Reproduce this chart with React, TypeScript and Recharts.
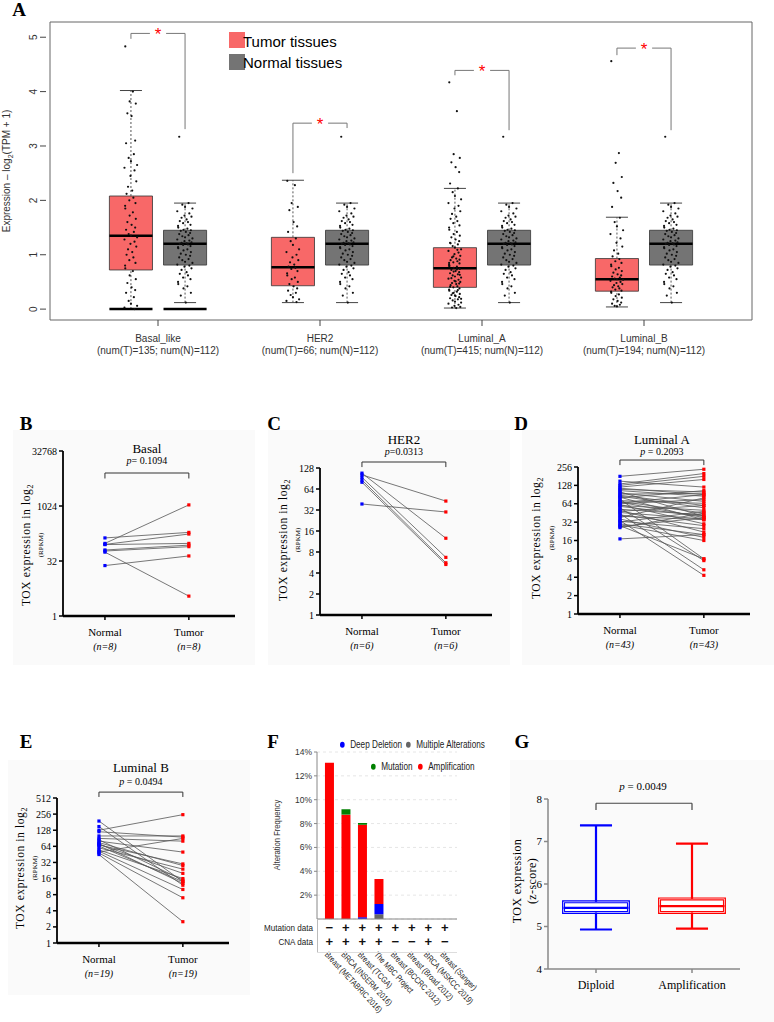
import React from 'react';
import {
  ComposedChart, LineChart, BarChart, Line, Bar, Scatter, XAxis, YAxis,
  CartesianGrid, ReferenceArea, ReferenceLine,
} from 'recharts';

const SERIF = "'Liberation Serif', 'DejaVu Serif', serif";
const SANS = "'Liberation Sans', Arial, sans-serif";
const NARROW = "'Liberation Sans Narrow', 'Liberation Sans', Arial, sans-serif";

// ---------- Panel A: GEPIA box plots ----------
const SUBTYPES = ['Basal_like', 'HER2', 'Luminal_A', 'Luminal_B'];
const SUBTYPE_X = [1, 2, 3, 4];
const NUM_T = [135, 66, 415, 194];
const NUM_N = [112, 112, 112, 112];
const A_TICKS = [0, 1, 2, 3, 4, 5];

// [lower whisker, q1, median, q3, upper whisker]
const TUMOR_BOX = [
  [0, 0.72, 1.35, 2.08, 4.02],
  [0.12, 0.43, 0.77, 1.32, 2.37],
  [0.02, 0.4, 0.75, 1.13, 2.22],
  [0.04, 0.33, 0.55, 0.93, 1.69],
];
const NORMAL_BOX = [0.12, 0.81, 1.2, 1.45, 1.95];
// [bracket top, tumor leg end, normal leg end]
const SIG = [
  [5.07, 4.97, 3.31],
  [3.42, 2.5, 3.33],
  [4.39, 4.3, 3.29],
  [4.8, 4.67, 3.29],
];

const BASAL_T = [4.83, 4.0, 3.82, 3.78, 3.6, 3.55, 3.1, 3.05, 2.85, 2.78, 2.72, 2.65, 2.6, 2.55, 2.45, 2.35,
  2.25, 2.18, 2.12, 2.05, 2.0, 1.95, 1.9, 1.85, 1.78, 1.72, 1.66, 1.6, 1.55, 1.5, 1.46, 1.42, 1.38, 1.35,
  1.32, 1.28, 1.24, 1.2, 1.15, 1.1, 1.05, 1.0, 0.95, 0.9, 0.85, 0.8, 0.75, 0.7, 0.62, 0.55, 0.48, 0.4,
  0.35, 0.3, 0.22, 0.15, 0.1, 0.06, 0.03, 0.0];
const HER2_T = [2.36, 2.28, 1.95, 1.88, 1.82, 1.6, 1.52, 1.42, 1.3, 1.25, 1.18, 1.1, 1.05, 1.0, 0.95, 0.9,
  0.86, 0.82, 0.78, 0.76, 0.74, 0.7, 0.66, 0.62, 0.58, 0.55, 0.5, 0.46, 0.42, 0.38, 0.34, 0.3, 0.26, 0.22,
  0.18, 0.15, 0.13];
const LUMA_T = [4.17, 3.64, 2.85, 2.78, 2.7, 2.61, 2.52, 2.31, 2.22, 2.15, 2.08, 2.02, 1.95, 1.9, 1.85, 1.8,
  1.75, 1.7, 1.66, 1.62, 1.58, 1.54, 1.5, 1.46, 1.42, 1.38, 1.35, 1.32, 1.28, 1.25, 1.22, 1.19, 1.16, 1.13,
  1.1, 1.07, 1.04, 1.01, 0.98, 0.95, 0.93, 0.9, 0.88, 0.86, 0.84, 0.82, 0.8, 0.78, 0.76, 0.74, 0.72, 0.7,
  0.68, 0.66, 0.64, 0.62, 0.6, 0.58, 0.56, 0.54, 0.52, 0.5, 0.48, 0.46, 0.44, 0.42, 0.4, 0.38, 0.36, 0.34,
  0.32, 0.3, 0.28, 0.26, 0.24, 0.22, 0.2, 0.18, 0.16, 0.14, 0.12, 0.1, 0.08, 0.06, 0.04, 0.03, 0.02,
  1.21, 1.09, 0.97, 0.91, 0.85, 0.79, 0.73, 0.69, 0.63, 0.57, 0.51, 0.47, 0.41, 0.35, 0.29, 0.25, 0.19];
const LUMB_T = [4.56, 2.87, 2.69, 2.43, 2.32, 2.17, 2.05, 1.88, 1.68, 1.6, 1.52, 1.45, 1.38, 1.3, 1.22, 1.15,
  1.08, 1.02, 0.97, 0.92, 0.88, 0.85, 0.82, 0.79, 0.76, 0.73, 0.7, 0.67, 0.64, 0.62, 0.6, 0.58, 0.56, 0.55,
  0.54, 0.52, 0.5, 0.48, 0.46, 0.44, 0.42, 0.4, 0.38, 0.36, 0.34, 0.32, 0.3, 0.27, 0.24, 0.21, 0.18, 0.15,
  0.12, 0.1, 0.08, 0.06, 0.05];
const NORMAL_PTS = [3.17, 1.95, 1.92, 1.88, 1.85, 1.8, 1.76, 1.72, 1.7, 1.68, 1.65, 1.62, 1.6, 1.58, 1.55,
  1.53, 1.5, 1.48, 1.46, 1.45, 1.44, 1.42, 1.4, 1.38, 1.36, 1.34, 1.32, 1.3, 1.28, 1.26, 1.25, 1.23, 1.22,
  1.21, 1.2, 1.19, 1.18, 1.16, 1.14, 1.12, 1.1, 1.08, 1.05, 1.02, 1.0, 0.98, 0.95, 0.92, 0.9, 0.87, 0.85,
  0.82, 0.8, 0.78, 0.75, 0.72, 0.68, 0.65, 0.62, 0.58, 0.55, 0.5, 0.46, 0.42, 0.38, 0.3, 0.25, 0.12];
const TUMOR_PTS = [BASAL_T, HER2_T, LUMA_T, LUMB_T];
// horizontal jitter pattern (x-axis units)
const JITTER = [-0.035, 0.012, -0.008, 0.03, -0.022, 0.004, 0.026, -0.03, 0.018, -0.014, 0.0, 0.038,
  -0.04, 0.022, -0.003, 0.033, -0.018, 0.008, -0.027, 0.015, -0.01, 0.028, -0.036];

// ---------- Panels B-E: paired TOX expression ----------
const B_NORMAL = [97, 137, 91, 90, 64, 60, 56, 24];
const B_TUMOR = [1097, 194, 175, 97, 87, 79, 3.5, 44];
const C_NORMAL = [102, 39, 108, 94, 86, 80];
const C_TUMOR = [43, 30, 12.6, 6.7, 5.6, 5.3];
const D_NORMAL = [180, 150, 135, 128, 120, 115, 110, 105, 100, 96, 92, 88, 85, 82, 80, 76, 72, 70, 68, 66,
  64, 62, 60, 58, 55, 52, 50, 48, 46, 44, 42, 40, 38, 36, 34, 33, 32, 30, 29, 28, 27, 26, 17];
const D_TUMOR = [235, 120, 200, 180, 160, 90, 100, 85, 40, 70, 95, 60, 55, 35, 105, 8, 65, 45, 38, 90,
  75, 30, 50, 40, 7.5, 42, 22, 60, 36, 5.3, 28, 35, 80, 18, 4.3, 25, 48, 20, 16, 8, 38, 45, 20];
const E_NORMAL = [190, 150, 128, 120, 100, 90, 85, 80, 75, 72, 70, 68, 65, 60, 55, 52, 50, 48, 45];
const E_TUMOR = [14, 12, 250, 95, 100, 80, 15, 50, 28, 13, 20, 30, 14, 24, 16, 10, 90, 7, 2.5];
const B_TICKS = [1, 32, 1024, 32768];
const C_TICKS = [1, 2, 4, 8, 16, 32, 64, 128];
const D_TICKS = [1, 2, 4, 8, 16, 32, 64, 128, 256];
const E_TICKS = [1, 2, 4, 8, 16, 32, 64, 128, 256, 512];

// ---------- Panel F: cBioPortal alteration frequency ----------
const STUDIES = ['Breast (METABRIC 2016)', 'BRCA (INSERM 2016)', 'Breast (TCGA)', 'The MBC Project',
  'Breast (BCCRC 2012)', 'Breast (Broad 2012)', 'BRCA (MSKCC 2019)', 'Breast (Sanger)'];
const MUT_DATA = ['−', '+', '+', '+', '+', '+', '+', '+'];
const CNA_DATA = ['+', '+', '+', '+', '−', '−', '+', '−'];
const MULTIPLE = [0, 0, 0, 0.4, 0, 0, 0, 0];
const DEEP_DEL = [0, 0, 0.15, 0.85, 0, 0, 0, 0];
const AMPLIFICATION = [13.1, 8.75, 7.75, 2.1, 0, 0, 0, 0];
const MUTATION = [0, 0.45, 0.15, 0, 0, 0, 0, 0];
const F_TICKS = [2, 4, 6, 8, 10, 12, 14];

// ---------- Panel G: z-score box plot ----------
const G_GROUPS = ['Diploid', 'Amplification'];
const G_COLORS = ['#0000ff', '#ff0000'];
const G_BOX = [
  [4.93, 5.33, 5.44, 5.58, 7.38],
  [4.95, 5.33, 5.48, 5.65, 6.95],
];
const G_TICKS = [4, 5, 6, 7, 8];

const TUMOR_FILL = '#f86868';
const NORMAL_FILL = '#747474';

const Txt = ({ x, y, children, size = 11, font = SERIF, rotate = 0, anchor = 'center', sx = 1, style = {} }: any) => (
  <div
    style={{
      position: 'absolute', left: x, top: y, fontSize: size, fontFamily: font, whiteSpace: 'nowrap',
      lineHeight: 1, color: '#000',
      transformOrigin: anchor === 'start' ? 'left center' : anchor === 'end' ? 'right center' : 'center center',
      transform: `translate(${anchor === 'center' ? '-50%' : anchor === 'end' ? '-100%' : '0'}, -50%) rotate(${rotate}deg) scale(${sx}, 1)`,
      ...style,
    }}
  >
    {children}
  </div>
);

const Letter = ({ x, y, ch }: any) => (
  <Txt x={x} y={y} size={19} style={{ fontWeight: 'bold' }}>{ch}</Txt>
);

function PanelA() {
  const tumorPts = TUMOR_PTS.flatMap((vals, g) =>
    vals.map((y, i) => ({ x: SUBTYPE_X[g] - 0.167 + JITTER[i % JITTER.length], y })));
  const normalPts = SUBTYPE_X.flatMap((c) =>
    NORMAL_PTS.map((y, i) => ({ x: c + 0.167 + JITTER[(i + 7) % JITTER.length] * 1.2, y })));
  const stars = SIG.map((s, g) => ({ x: SUBTYPE_X[g], y: s[0] }));

  const boxes: any[] = [];
  SUBTYPE_X.forEach((c, g) => {
    [[c - 0.167, TUMOR_BOX[g], TUMOR_FILL], [c + 0.167, NORMAL_BOX, NORMAL_FILL]].forEach(([bx, b, fill]: any, k) => {
      const key = `${g}-${k}`;
      boxes.push(
        <ReferenceLine key={`wu${key}`} segment={[{ x: bx, y: b[3] }, { x: bx, y: b[4] }]} stroke="#555" strokeDasharray="2 2" />,
        <ReferenceLine key={`wl${key}`} segment={[{ x: bx, y: b[0] }, { x: bx, y: b[1] }]} stroke="#555" strokeDasharray="2 2" />,
        <ReferenceLine key={`cu${key}`} segment={[{ x: bx - 0.068, y: b[4] }, { x: bx + 0.068, y: b[4] }]} stroke="#444" />,
        <ReferenceLine key={`cl${key}`} segment={[{ x: bx - 0.068, y: b[0] }, { x: bx + 0.068, y: b[0] }]} stroke="#444" />,
        <ReferenceArea key={`b${key}`} x1={bx - 0.133} x2={bx + 0.133} y1={b[1]} y2={b[3]} fill={fill} fillOpacity={1} stroke="#333" strokeWidth={0.8} />,
        <ReferenceLine key={`m${key}`} segment={[{ x: bx - 0.133, y: b[2] }, { x: bx + 0.133, y: b[2] }]} stroke="#000" strokeWidth={2.5} />,
      );
      if (g === 0) {
        boxes.push(
          <ReferenceLine key={`z${key}`} segment={[{ x: bx - 0.133, y: 0 }, { x: bx + 0.133, y: 0 }]} stroke="#000" strokeWidth={2.5} />,
        );
      }
    });
    const s = SIG[g];
    boxes.push(
      <ReferenceLine key={`s1${g}`} segment={[{ x: c - 0.167, y: s[0] }, { x: c - 0.05, y: s[0] }]} stroke="#777" ifOverflow="visible" />,
      <ReferenceLine key={`s2${g}`} segment={[{ x: c + 0.05, y: s[0] }, { x: c + 0.167, y: s[0] }]} stroke="#777" ifOverflow="visible" />,
      <ReferenceLine key={`s3${g}`} segment={[{ x: c - 0.167, y: s[0] }, { x: c - 0.167, y: s[1] }]} stroke="#777" ifOverflow="visible" />,
      <ReferenceLine key={`s4${g}`} segment={[{ x: c + 0.167, y: s[0] }, { x: c + 0.167, y: s[2] }]} stroke="#777" ifOverflow="visible" />,
    );
  });

  const yTick = ({ y, payload }: any) => (
    <g>
      <line x1={40} x2={46} y1={y} y2={y} stroke="#444" />
      <text transform={`translate(37 ${y}) rotate(-90)`} textAnchor="middle" fontSize={10} fontFamily={SANS} fill="#333">{payload.value}</text>
    </g>
  );
  const xTick = ({ x, payload }: any) => {
    const g = SUBTYPE_X.indexOf(payload.value);
    return (
      <g>
        <line x1={x} x2={x} y1={320} y2={326} stroke="#444" />
        <text x={x} y={342} textAnchor="middle" fontSize={10} fontFamily={SANS} fill="#333">{SUBTYPES[g]}</text>
        <text x={x} y={354} textAnchor="middle" fontSize={10} fontFamily={SANS} fill="#333">{`(num(T)=${NUM_T[g]}; num(N)=${NUM_N[g]})`}</text>
      </g>
    );
  };

  return (
    <div style={{ position: 'absolute', left: 0, top: 0 }}>
      <ComposedChart width={774} height={370} margin={{ top: 22, right: 22, bottom: 10, left: 10 }}>
        <XAxis type="number" dataKey="x" domain={[1 / 3, 14 / 3]} ticks={SUBTYPE_X} allowDataOverflow
          height={40} axisLine={false} tickLine={false} tick={xTick} interval={0} />
        <YAxis type="number" dataKey="y" domain={[-0.2, 5.28]} ticks={A_TICKS} allowDataOverflow
          width={40} axisLine={false} tickLine={false} tick={yTick} interval={0} />
        <ReferenceArea x1={1 / 3} x2={14 / 3} y1={-0.2} y2={5.28} fill="none" stroke="#666" strokeWidth={1} ifOverflow="visible" />
        {boxes}
        <Scatter data={tumorPts} isAnimationActive={false}
          shape={(p: any) => <circle cx={p.cx} cy={p.cy} r={1.1} fill="#111" />} />
        <Scatter data={normalPts} isAnimationActive={false}
          shape={(p: any) => <circle cx={p.cx} cy={p.cy} r={1.1} fill="#111" />} />
        <Scatter data={stars} isAnimationActive={false}
          shape={(p: any) => <text x={p.cx} y={p.cy + 7} textAnchor="middle" fontSize={17} fill="#f00" fontFamily={SANS}>*</text>} />
      </ComposedChart>
    </div>
  );
}

const XDOM = [-0.5, 1.55];

function PairedPanel({ cfg }: any) {
  const { wrap, plot, normal, tumor, ticks, n, title, pText, titleY, pY, bracket, labelX, rpkmX, labelY } = cfg;
  const YW = 35;
  const XH = 35;
  const margin = {
    top: plot.top - wrap.top,
    left: plot.left - wrap.left - YW,
    right: wrap.left + wrap.width - plot.right,
    bottom: wrap.top + wrap.height - plot.bottom - XH,
  };
  const rows = [0, 1].map((x) => {
    const r: any = { x };
    (x === 0 ? normal : tumor).forEach((v: number, i: number) => { r[`p${i}`] = v; });
    return r;
  });
  const axisY = plot.bottom - wrap.top;
  const centerX = plot.left + ((0.5 - XDOM[0]) / (XDOM[1] - XDOM[0])) * (plot.right - plot.left);
  const dot = (p: any) => {
    const k = `${p.dataKey}-${p.index}`;
    if (p.cx == null || p.cy == null) return <g key={k} />;
    return <rect key={k} x={p.cx - 1.6} y={p.cy - 1.6} width={3.2} height={3.2} fill={p.index === 0 ? '#0000ff' : '#ff0000'} />;
  };
  const xTick = (p: any) => (
    <g>
      <text x={p.x} y={axisY + 20} textAnchor="middle" fontFamily={SERIF} fontSize={11} fill="#000">
        {p.payload.value === 0 ? 'Normal' : 'Tumor'}
      </text>
      <text x={p.x} y={axisY + 34} textAnchor="middle" fontFamily={SERIF} fontSize={10} fontStyle="italic" fill="#000">
        {`(n=${n})`}
      </text>
    </g>
  );
  const top = ticks[ticks.length - 1];
  return (
    <>
      <div style={{ position: 'absolute', left: wrap.left, top: wrap.top, width: wrap.width, height: wrap.height, background: '#fafafa' }}>
        <LineChart width={wrap.width} height={wrap.height} data={rows} margin={margin}>
          <XAxis type="number" dataKey="x" domain={XDOM} ticks={[0, 1]} allowDataOverflow height={XH}
            tickSize={4} axisLine={{ stroke: '#000', strokeWidth: 2.5 }} tickLine={{ stroke: '#000', strokeWidth: 1.5 }}
            tick={xTick} interval={0} />
          <YAxis scale="log" domain={[1, top]} ticks={ticks} allowDataOverflow width={YW} tickSize={4}
            axisLine={{ stroke: '#000', strokeWidth: 1.8 }} tickLine={{ stroke: '#000', strokeWidth: 1.5 }}
            tick={{ fontFamily: SERIF, fontSize: 10, fill: '#000' }} interval={0} />
          <ReferenceLine segment={[{ x: 0, y: bracket[0] }, { x: 1, y: bracket[0] }]} stroke="#333" ifOverflow="visible" />
          <ReferenceLine segment={[{ x: 0, y: bracket[0] }, { x: 0, y: bracket[1] }]} stroke="#333" ifOverflow="visible" />
          <ReferenceLine segment={[{ x: 1, y: bracket[0] }, { x: 1, y: bracket[1] }]} stroke="#333" ifOverflow="visible" />
          {normal.map((_: number, i: number) => (
            <Line key={i} dataKey={`p${i}`} stroke="#555" strokeWidth={0.8} dot={dot} activeDot={false} isAnimationActive={false} />
          ))}
        </LineChart>
      </div>
      <Txt x={centerX} y={titleY} size={13}>{title}</Txt>
      <Txt x={centerX} y={pY} size={10}><i>p</i>{pText}</Txt>
      <Txt x={labelX} y={labelY} size={11.5} rotate={-90} style={{ letterSpacing: 0.6 }}>
        TOX expression in log<sub style={{ fontSize: 8 }}>2</sub>
      </Txt>
      <Txt x={rpkmX} y={labelY} size={7} rotate={-90}>(RPKM)</Txt>
    </>
  );
}

const PAIRED = [
  { wrap: { left: 13, top: 430, width: 242, height: 235 }, plot: { left: 63, top: 451, right: 235, bottom: 616 },
    normal: B_NORMAL, tumor: B_TUMOR, ticks: B_TICKS, n: 8, title: 'Basal', pText: '= 0.1094', titleY: 448, pY: 461,
    bracket: [8192, 5800], labelX: 28, rpkmX: 41, labelY: 545 },
  { wrap: { left: 268, top: 430, width: 242, height: 235 }, plot: { left: 320, top: 468, right: 492, bottom: 615 },
    normal: C_NORMAL, tumor: C_TUMOR, ticks: C_TICKS, n: 6, title: 'HER2', pText: '=0.0313', titleY: 439, pY: 452,
    bracket: [156, 132], labelX: 285, rpkmX: 298, labelY: 540 },
  { wrap: { left: 522, top: 430, width: 252, height: 235 }, plot: { left: 578, top: 467, right: 750, bottom: 614 },
    normal: D_NORMAL, tumor: D_TUMOR, ticks: D_TICKS, n: 43, title: 'Luminal  A', pText: ' = 0.2093', titleY: 439, pY: 452,
    bracket: [333, 275], labelX: 538, rpkmX: 552, labelY: 538 },
  { wrap: { left: 8, top: 760, width: 242, height: 235 }, plot: { left: 57, top: 798, right: 229, bottom: 943 },
    normal: E_NORMAL, tumor: E_TUMOR, ticks: E_TICKS, n: 19, title: 'Luminal  B', pText: ' = 0.0494', titleY: 767, pY: 782,
    bracket: [660, 535], labelX: 22, rpkmX: 35, labelY: 868 },
];

function PanelF() {
  const rows = STUDIES.map((s, i) => ({
    study: s, mut: MUT_DATA[i], cna: CNA_DATA[i],
    multiple: MULTIPLE[i], deep: DEEP_DEL[i], amp: AMPLIFICATION[i], mutation: MUTATION[i],
  }));
  const wrapTop = 728;
  const axisY = 919 - wrapTop;
  const xTick = (p: any) => {
    const r = rows[p.index];
    return (
      <g>
        <text x={p.x} y={axisY + 13} textAnchor="middle" fontSize={13} fontWeight="bold" fontFamily={SANS} fill="#111">{r.mut}</text>
        <text x={p.x} y={axisY + 27} textAnchor="middle" fontSize={13} fontWeight="bold" fontFamily={SANS} fill="#111">{r.cna}</text>
        <text transform={`translate(${p.x - 5} ${axisY + 36}) rotate(47) scale(0.82 1)`} fontSize={8.5} fontFamily={NARROW} fill="#222">{r.study}</text>
      </g>
    );
  };
  const legendDot = (c: string) => (
    <span style={{ display: 'inline-block', width: 6, height: 6, borderRadius: 3, background: c, marginRight: 7, verticalAlign: 'middle' }} />
  );
  return (
    <>
      <div style={{ position: 'absolute', left: 255, top: wrapTop }}>
        <BarChart width={255} height={294} data={rows} margin={{ top: 24, right: 53, bottom: 3, left: 22 }} barCategoryGap="24%">
          <CartesianGrid vertical={false} strokeDasharray="3 3" stroke="#e6e6e6" />
          <XAxis dataKey="study" height={100} padding={{ left: 4, right: 4 }} interval={0}
            axisLine={{ stroke: '#888' }} tickLine={false} tick={xTick} />
          <YAxis domain={[0, 14]} ticks={F_TICKS} width={40} interval={0} tickSize={3}
            tickFormatter={(v) => `${v}%`} axisLine={{ stroke: '#888' }} tickLine={{ stroke: '#888' }}
            tick={{ fontSize: 8.5, fontFamily: NARROW, fill: '#333' }} />
          <Bar dataKey="multiple" stackId="a" fill="#666666" isAnimationActive={false} />
          <Bar dataKey="deep" stackId="a" fill="#0000ff" isAnimationActive={false} />
          <Bar dataKey="amp" stackId="a" fill="#ff0000" isAnimationActive={false} />
          <Bar dataKey="mutation" stackId="a" fill="#008000" isAnimationActive={false} />
        </BarChart>
      </div>
      <div style={{ position: 'absolute', left: 317, top: 919, width: 1, height: 33, background: '#bbb' }} />
      <div style={{ position: 'absolute', left: 317, top: 952, width: 140, height: 1, background: '#ddd' }} />
      <Txt x={313} y={928} size={9.5} font={NARROW} anchor="end" sx={0.85} style={{ color: '#222' }}>Mutation data</Txt>
      <Txt x={313} y={942} size={9.5} font={NARROW} anchor="end" sx={0.85} style={{ color: '#222' }}>CNA data</Txt>
      <Txt x={277} y={835} size={9} font={NARROW} rotate={-90} sx={0.85} style={{ color: '#333' }}>Alteration Frequency</Txt>
      <Txt x={340} y={744} size={10.5} font={NARROW} anchor="start" sx={0.78} style={{ color: '#222' }}>{legendDot('#0000ff')}Deep Deletion</Txt>
      <Txt x={406} y={744} size={10.5} font={NARROW} anchor="start" sx={0.78} style={{ color: '#222' }}>{legendDot('#666')}Multiple Alterations</Txt>
      <Txt x={371} y={766} size={10.5} font={NARROW} anchor="start" sx={0.78} style={{ color: '#222' }}>{legendDot('#008000')}Mutation</Txt>
      <Txt x={418} y={766} size={10.5} font={NARROW} anchor="start" sx={0.78} style={{ color: '#222' }}>{legendDot('#ff0000')}Amplification</Txt>
    </>
  );
}

function PanelG() {
  const wrap = { left: 510, top: 760, width: 264, height: 262 };
  const axisY = 969 - wrap.top;
  const medians = G_BOX.map((b, i) => ({ x: i, y: b[2] }));
  const marks: any[] = [];
  G_BOX.forEach((b, i) => {
    const c = G_COLORS[i];
    marks.push(
      <ReferenceLine key={`wu${i}`} segment={[{ x: i, y: b[3] }, { x: i, y: b[4] }]} stroke={c} strokeWidth={2.2} />,
      <ReferenceLine key={`wl${i}`} segment={[{ x: i, y: b[0] }, { x: i, y: b[1] }]} stroke={c} strokeWidth={2.2} />,
      <ReferenceLine key={`cu${i}`} segment={[{ x: i - 0.167, y: b[4] }, { x: i + 0.167, y: b[4] }]} stroke={c} strokeWidth={2.2} />,
      <ReferenceLine key={`cl${i}`} segment={[{ x: i - 0.167, y: b[0] }, { x: i + 0.167, y: b[0] }]} stroke={c} strokeWidth={2.2} />,
      <ReferenceArea key={`b${i}`} x1={i - 0.338} x2={i + 0.338} y1={b[1]} y2={b[3]} fill="#fff" fillOpacity={1} stroke={c} strokeWidth={3} />,
      <ReferenceArea key={`bi${i}`} x1={i - 0.338} x2={i + 0.338} y1={b[1]} y2={b[3]} fill="none" stroke="#fff" strokeWidth={0.7} />,
      <ReferenceLine key={`m${i}`} segment={[{ x: i - 0.338, y: b[2] }, { x: i + 0.338, y: b[2] }]} stroke={c} strokeWidth={2.2} />,
    );
  });
  const xTick = (p: any) => (
    <text x={p.x} y={axisY + 20} textAnchor="middle" fontFamily={SERIF} fontSize={12} fill="#000">{G_GROUPS[p.payload.value]}</text>
  );
  return (
    <>
      <div style={{ position: 'absolute', left: wrap.left, top: wrap.top, width: wrap.width, height: wrap.height, background: '#fafafa' }}>
        <ComposedChart width={wrap.width} height={wrap.height} data={medians} margin={{ top: 39, right: 34, bottom: 23, left: 8 }}>
          <XAxis type="number" dataKey="x" domain={[-0.5, 1.5]} ticks={[0, 1]} allowDataOverflow height={30}
            tickSize={4} axisLine={{ stroke: '#888', strokeWidth: 1.5 }} tickLine={{ stroke: '#888', strokeWidth: 1.5 }}
            tick={xTick} interval={0} />
          <YAxis type="number" domain={[4, 8]} ticks={G_TICKS} allowDataOverflow width={30} tickSize={4}
            axisLine={{ stroke: '#888', strokeWidth: 1.5 }} tickLine={{ stroke: '#888', strokeWidth: 1.5 }}
            tick={{ fontFamily: SERIF, fontSize: 11, fill: '#000' }} interval={0} />
          {marks}
          <ReferenceLine segment={[{ x: 0, y: 7.9 }, { x: 1, y: 7.9 }]} stroke="#444" strokeWidth={1.2} ifOverflow="visible" />
          <ReferenceLine segment={[{ x: 0, y: 7.9 }, { x: 0, y: 7.74 }]} stroke="#444" strokeWidth={1.2} ifOverflow="visible" />
          <ReferenceLine segment={[{ x: 1, y: 7.9 }, { x: 1, y: 7.74 }]} stroke="#444" strokeWidth={1.2} ifOverflow="visible" />
          <Scatter dataKey="y" isAnimationActive={false} shape={() => <g />} />
        </ComposedChart>
      </div>
      <Txt x={643} y={786} size={11}><i>p</i> = 0.0049</Txt>
      <Txt x={517} y={881} size={12} rotate={-90} style={{ letterSpacing: 0.4 }}>TOX expression</Txt>
      <Txt x={532} y={881} size={12} rotate={-90} style={{ letterSpacing: 0.4 }}>(z-score)</Txt>
    </>
  );
}

export default function App() {
  return (
    <div style={{ position: 'absolute', left: 0, top: 0, width: 774, height: 1022, background: '#fff', overflow: 'hidden' }}>
      <PanelA />
      <div style={{ position: 'absolute', left: 229, top: 32, width: 16, height: 16, background: TUMOR_FILL }} />
      <div style={{ position: 'absolute', left: 229, top: 54, width: 16, height: 16, background: NORMAL_FILL }} />
      <Txt x={243} y={41} size={15} font={SANS} anchor="start">Tumor tissues</Txt>
      <Txt x={243} y={62} size={15} font={SANS} anchor="start">Normal tissues</Txt>
      <Txt x={8} y={171} size={10} font={SANS} rotate={-90} style={{ color: '#333' }}>
        Expression – log<sub style={{ fontSize: 7 }}>2</sub>(TPM + 1)
      </Txt>
      {PAIRED.map((cfg, i) => <PairedPanel key={i} cfg={cfg} />)}
      <PanelF />
      <PanelG />
      <Letter x={19} y={9} ch="A" />
      <Letter x={26} y={423} ch="B" />
      <Letter x={274} y={423} ch="C" />
      <Letter x={521} y={423} ch="D" />
      <Letter x={26} y={741} ch="E" />
      <Letter x={273} y={741} ch="F" />
      <Letter x={522} y={741} ch="G" />
    </div>
  );
}
